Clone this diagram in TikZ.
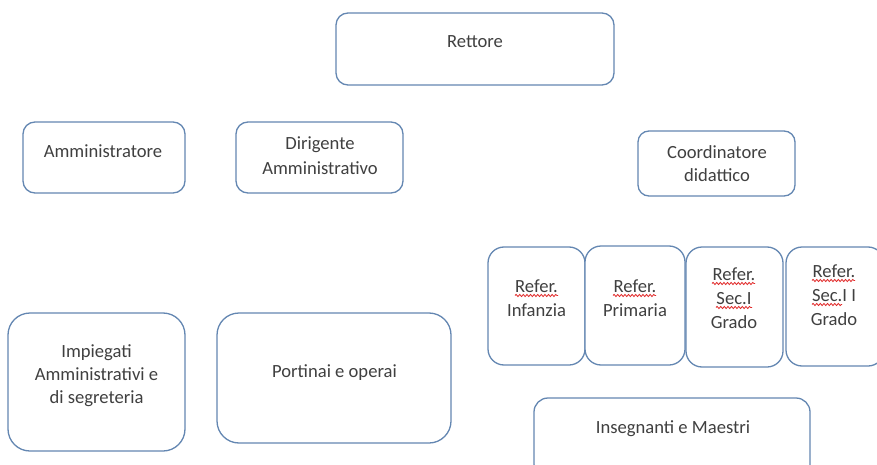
\documentclass[tikz,border=0pt]{standalone}
\usepackage{fontspec}
\setmainfont{Carlito}
\usetikzlibrary{decorations.pathmorphing}
\definecolor{boxline}{RGB}{100,135,178}
\definecolor{txtgray}{RGB}{64,64,64}
\definecolor{spellred}{RGB}{225,40,40}
\tikzset{
  orgbox/.style={draw=boxline, line width=1.3pt, fill=white, inner sep=0pt, outer sep=0pt},
  txt/.style={text=txtgray, inner sep=0pt, anchor=base, align=center,
    font=\fontsize{18.6}{24}\selectfont},
  tight/.style={font=\fontsize{18.6}{23}\selectfont},
  loose/.style={font=\fontsize{18.6}{25}\selectfont},
  spellwave/.style={draw=spellred, line width=0.8pt, decorate,
    decoration={snake, amplitude=1.1pt, segment length=3.6pt}}
}
\begin{document}
\begin{tikzpicture}[x=1pt,y=-1pt]
\useasboundingbox (0,0) rectangle (877,465);
\clip (0,0) rectangle (877,465);
\fill[white] (0,0) rectangle (877,465);
% boxes
\node[orgbox, minimum width=278pt, minimum height=72pt, rounded corners=12pt] (rettore) at (475,49) {};
\node[orgbox, minimum width=162pt, minimum height=71pt, rounded corners=12pt] (amm) at (104,157.5) {};
\node[orgbox, minimum width=167pt, minimum height=71pt, rounded corners=12pt] (dir) at (319.5,157.5) {};
\node[orgbox, minimum width=157pt, minimum height=65pt, rounded corners=11pt] (coord) at (716.5,163.5) {};
\node[orgbox, minimum width=97pt, minimum height=118pt, rounded corners=16pt] (ref1) at (536.5,306) {};
\node[orgbox, minimum width=100pt, minimum height=119pt, rounded corners=16pt] (ref2) at (635,305.5) {};
\node[orgbox, minimum width=97pt, minimum height=120pt, rounded corners=16pt] (ref3) at (734.5,307) {};
\node[orgbox, minimum width=98pt, minimum height=119pt, rounded corners=16pt] (ref4) at (835,306.5) {};
\node[orgbox, minimum width=177pt, minimum height=138pt, rounded corners=22pt] (imp) at (96.5,382) {};
\node[orgbox, minimum width=234pt, minimum height=130pt, rounded corners=22pt] (port) at (334,378) {};
\node[orgbox, minimum width=276pt, minimum height=80pt, rounded corners=14pt] (ins) at (672,438) {};
% texts (anchor = baseline of the last line)
\node[txt] (rettore-t) at (475,48) {Rettore};
\node[txt] (amm-t) at (103,158) {Amministratore};
\node[txt, loose] (dir-t) at (320,175) {Dirigente\\Amministrativo};
\node[txt, tight] (coord-t) at (717,182) {Coordinatore\\didattico};
\node[txt] (ref1-t) at (536.5,316) {Refer.\\Infanzia};
\node[txt] (ref2-t) at (635,316) {Refer.\\Primaria};
\node[txt] (ref3-t) at (734,328) {Refer.\\Sec.I\\Grado};
\node[txt] (ref4-t) at (834,325) {Refer.\\Sec.I I\\Grado};
\node[txt, tight] (imp-t) at (96.5,403) {Impiegati\\Amministrativi e\\di segreteria};
\node[txt] (port-t) at (334.5,377) {Portinai e operai};
\node[txt] (ins-t) at (673,433) {Insegnanti e Maestri};
% spell-check wavy underlines
\coordinate (w1a) at (515,295.5);  \coordinate (w1b) at (558,295.5);
\coordinate (w2a) at (613,295.5);  \coordinate (w2b) at (656,295.5);
\coordinate (w3a) at (712,283.5);  \coordinate (w3b) at (755,283.5);
\coordinate (w4a) at (716,307.5);  \coordinate (w4b) at (752,307.5);
\coordinate (w5a) at (812,280.5);  \coordinate (w5b) at (855,280.5);
\coordinate (w6a) at (812,304.5);  \coordinate (w6b) at (842,304.5);
\draw[spellwave] (w1a) -- (w1b);
\draw[spellwave] (w2a) -- (w2b);
\draw[spellwave] (w3a) -- (w3b);
\draw[spellwave] (w4a) -- (w4b);
\draw[spellwave] (w5a) -- (w5b);
\draw[spellwave] (w6a) -- (w6b);
\end{tikzpicture}
\end{document}
